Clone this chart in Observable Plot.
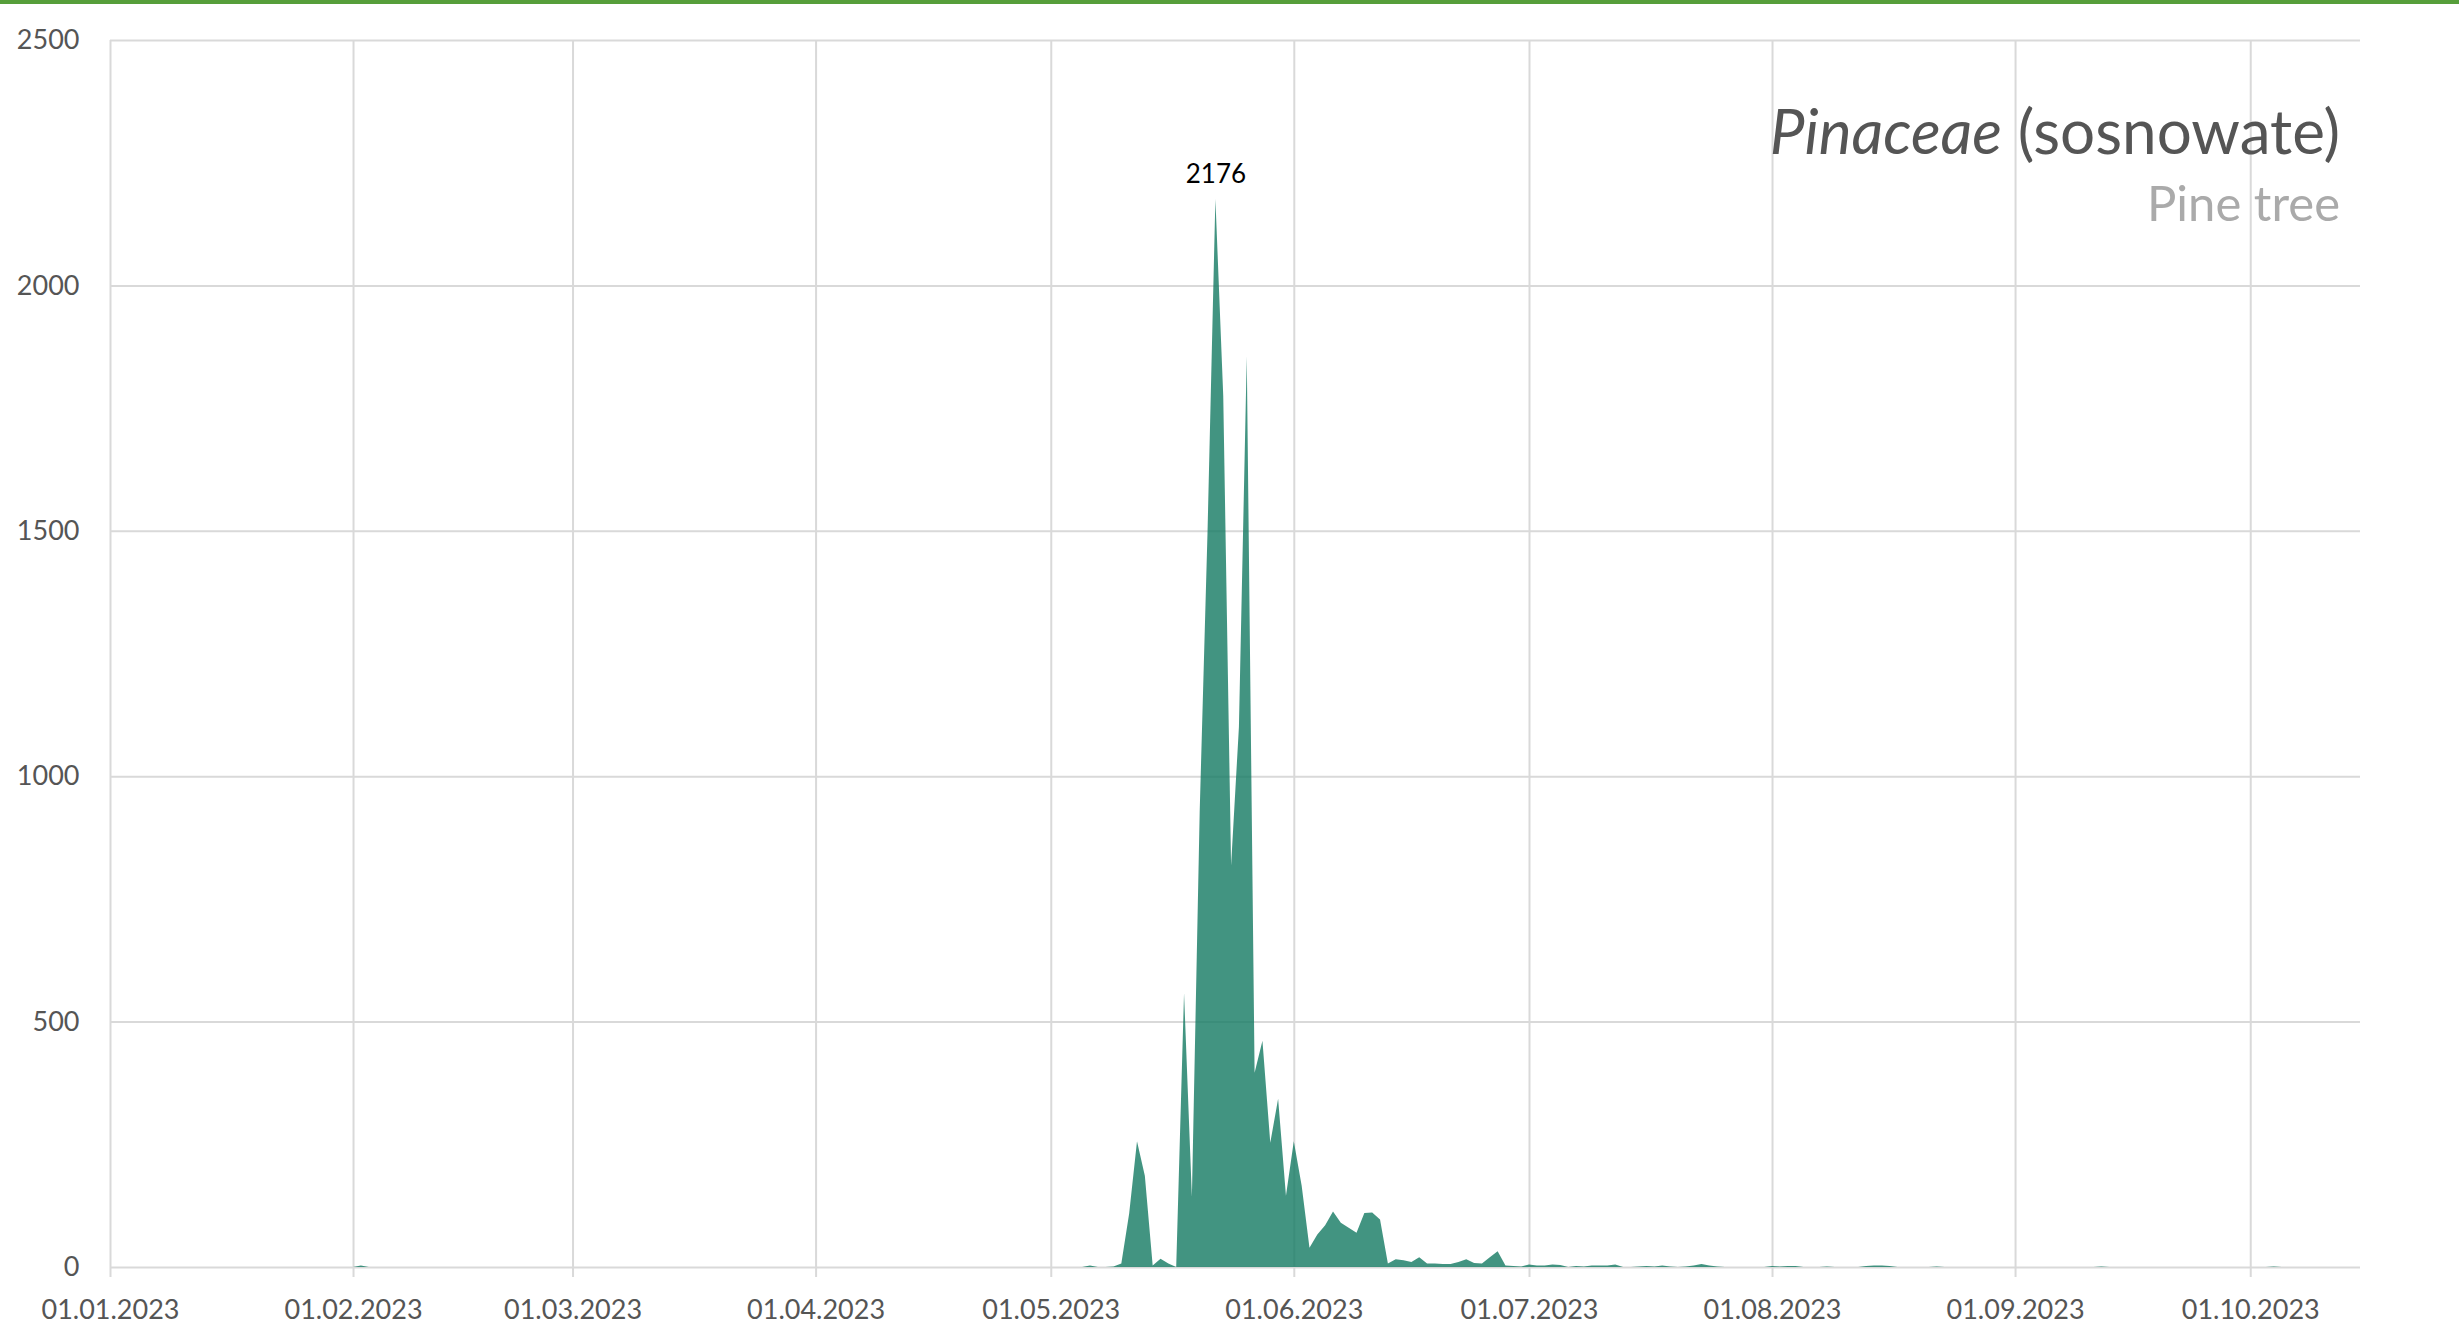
<!DOCTYPE html>
<html>
<head>
<meta charset="utf-8">
<script src="https://cdn.jsdelivr.net/npm/d3@7"></script>
<script src="https://cdn.jsdelivr.net/npm/@observablehq/plot@0.6"></script>
<style>
  html, body { margin: 0; padding: 0; background: #fff; }
  #wrap { position: relative; width: 2459px; height: 1343px; overflow: hidden; }
  #topbar { position: absolute; left: 0; top: 0; width: 2459px; height: 4px; background: #569e3a; }
  #title { position: absolute; right: 119px; top: 99px; font-family: Lato, sans-serif; font-size: 62px; color: #555; line-height: 1; white-space: nowrap; }
  #subtitle { position: absolute; right: 119px; top: 178px; font-family: Lato, sans-serif; font-size: 49px; color: #aaa; line-height: 1; white-space: nowrap; }
</style>
</head>
<body>
<div id="wrap">
  <div id="chart"></div>
  <div id="topbar"></div>
  <div id="title"><i>Pinaceae</i> (sosnowate)</div>
  <div id="subtitle">Pine tree</div>
</div>
<script>
const dates = [
  "2023-01-01","2023-02-01","2023-02-02","2023-02-03",
  "2023-05-05","2023-05-06","2023-05-07","2023-05-08","2023-05-09","2023-05-10",
  "2023-05-11","2023-05-12","2023-05-13","2023-05-14","2023-05-15","2023-05-16",
  "2023-05-17","2023-05-18","2023-05-19","2023-05-20","2023-05-21","2023-05-22",
  "2023-05-23","2023-05-24","2023-05-25","2023-05-26","2023-05-27","2023-05-28",
  "2023-05-29","2023-05-30","2023-05-31",
  "2023-06-01","2023-06-02","2023-06-03","2023-06-04","2023-06-05","2023-06-06",
  "2023-06-07","2023-06-08","2023-06-09","2023-06-10","2023-06-11","2023-06-12",
  "2023-06-13","2023-06-14","2023-06-15","2023-06-16","2023-06-17","2023-06-18",
  "2023-06-19","2023-06-20","2023-06-21","2023-06-22","2023-06-23","2023-06-24",
  "2023-06-25","2023-06-26","2023-06-27","2023-06-28","2023-06-29","2023-06-30",
  "2023-07-01","2023-07-02","2023-07-03","2023-07-04","2023-07-05","2023-07-06",
  "2023-07-07","2023-07-08","2023-07-09","2023-07-10","2023-07-11","2023-07-12",
  "2023-07-13","2023-07-14","2023-07-15","2023-07-16","2023-07-17","2023-07-18",
  "2023-07-19","2023-07-20","2023-07-21","2023-07-22","2023-07-23","2023-07-24",
  "2023-07-25","2023-07-26","2023-07-31",
  "2023-08-01","2023-08-02","2023-08-03","2023-08-04","2023-08-05",
  "2023-08-07","2023-08-08","2023-08-09",
  "2023-08-12","2023-08-13","2023-08-14","2023-08-15","2023-08-16","2023-08-17",
  "2023-08-21","2023-08-22","2023-08-23",
  "2023-09-11","2023-09-12","2023-09-13",
  "2023-10-03","2023-10-04","2023-10-05","2023-10-15"
];
const values = [
  0,0,3,0,
  0,3,0,0,1,7,
  109,256,186,3,17,7,
  0,558,143,930,1500,2176,
  1775,818,1100,1855,396,461,
  253,343,145,
  256,166,39,66,85,113,
  90,80,70,110,111,97,
  7,16,14,10,20,7,
  7,6,6,10,16,8,
  7,20,32,3,2,1,
  5,3,3,5,4,0,
  2,1,3,3,3,5,
  0,0,1,2,1,3,
  1,0,1,3,6,3,
  1,0,0,
  2,1,2,2,0,
  0,1,0,
  0,2,3,3,2,0,
  0,1,0,
  0,1,0,
  0,1,0,0
];
const xTickDates = ["2023-01-01","2023-02-01","2023-03-01","2023-04-01","2023-05-01","2023-06-01","2023-07-01","2023-08-01","2023-09-01","2023-10-01"];
const yTickValues = [0, 500, 1000, 1500, 2000, 2500];
const xDomain = ["2023-01-01", "2023-10-15"];

const data = dates.map((d, i) => ({date: new Date(d), value: values[i]}));
const xTicks = xTickDates.map(d => new Date(d));
const fmt = d3.utcFormat("%d.%m.%Y");
const grid = "#d9d9d9";

const chart = Plot.plot({
  width: 2459,
  height: 1343,
  marginLeft: 110,
  marginRight: 99,
  marginTop: 40,
  marginBottom: 76,
  style: {fontFamily: "Lato, sans-serif", fontSize: "27px", background: "white", color: "#555"},
  x: {type: "utc", domain: xDomain.map(d => new Date(d)), ticks: xTicks, tickFormat: fmt},
  y: {domain: [0, 2500], ticks: yTickValues},
  marks: [
    Plot.gridY(yTickValues, {stroke: grid, strokeOpacity: 1, strokeWidth: 2}),
    Plot.gridX(xTicks, {stroke: grid, strokeOpacity: 1, strokeWidth: 2}),
    Plot.axisX(xTicks, {tickSize: 10, tickPadding: 22, stroke: grid, strokeWidth: 2, fill: "#555", tickFormat: fmt, label: null}),
    Plot.axisY(yTickValues, {tickSize: 0, tickPadding: 31, fill: "#555", tickFormat: d => String(d), label: null}),
    Plot.areaY(data, {x: "date", y: "value", fill: "#137962", fillOpacity: 0.8, curve: "linear"}),
    Plot.text(data, Plot.selectMaxY({x: "date", y: "value", text: d => String(d.value), lineAnchor: "bottom", dy: -17, fill: "black", fontSize: 26}))
  ]
});
document.getElementById("chart").appendChild(chart);
</script>
</body>
</html>
